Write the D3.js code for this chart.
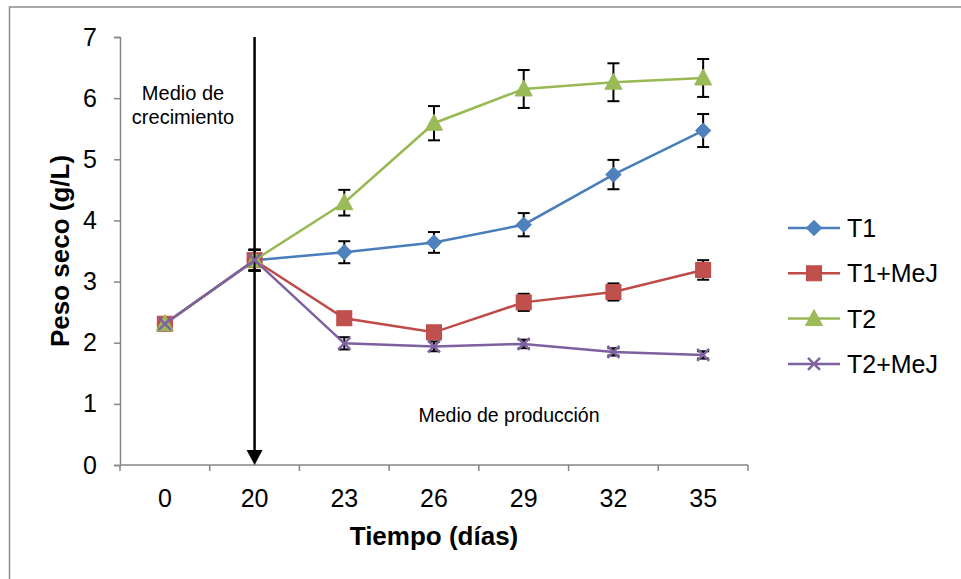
<!DOCTYPE html>
<html>
<head>
<meta charset="utf-8">
<script src="https://cdn.jsdelivr.net/npm/d3@7"></script>
<style>
  body { margin: 0; background: #fff; }
  svg { display: block; font-family: "Liberation Sans", Arial, sans-serif; }
</style>
</head>
<body>
<div id="chart"></div>
<script>
// data
var days = ["0", "20", "23", "26", "29", "32", "35"];
var seriesNames = ["T1", "T1+MeJ", "T2", "T2+MeJ"];
var t1 = [2.31, 3.35, 3.48, 3.64, 3.93, 4.75, 5.47];
var t1Err = [0, 0.17, 0.18, 0.17, 0.19, 0.24, 0.27];
var t1MeJ = [2.31, 3.35, 2.40, 2.17, 2.66, 2.83, 3.19];
var t1MeJErr = [0, 0.17, 0.08, 0.08, 0.14, 0.14, 0.16];
var t2 = [2.31, 3.35, 4.29, 5.59, 6.15, 6.26, 6.33];
var t2Err = [0, 0.17, 0.21, 0.28, 0.31, 0.31, 0.31];
var t2MeJ = [2.31, 3.35, 1.99, 1.94, 1.98, 1.85, 1.80];
var t2MeJErr = [0, 0.17, 0.10, 0.08, 0.07, 0.06, 0.06];
var yTicks = [0, 1, 2, 3, 4, 5, 6, 7];

var colors = ["#4A7EBB", "#BE4B48", "#98B954", "#7D60A0"];
var fills = ["#4F81BD", "#C0504D", "#9BBB59", "#8064A2"];
var markers = ["diamond", "square", "triangle", "x"];

var values = [t1, t1MeJ, t2, t2MeJ];
var errors = [t1Err, t1MeJErr, t2Err, t2MeJErr];
var series = seriesNames.map(function (name, i) {
    return { name: name, color: colors[i], fill: fills[i], marker: markers[i],
        points: days.map(function (d, j) { return { day: d, value: values[i][j], err: errors[i][j] }; }) };
});

var width = 961, height = 579;
var margin = { top: 37, left: 120, right: 213, bottom: 114 };
var plotW = width - margin.left - margin.right;
var plotH = height - margin.top - margin.bottom;

var svg = d3.select("#chart").append("svg")
    .attr("width", width)
    .attr("height", height);

// outer chart frame (cut off right/bottom like the source)
svg.append("rect")
    .attr("x", 9.5).attr("y", 7)
    .attr("width", 1000).attr("height", 700)
    .attr("fill", "none").attr("stroke", "#8c8c8c").attr("stroke-width", 1.5);

var x = d3.scaleBand().domain(days).range([0, plotW]);
var y = d3.scaleLinear().domain([0, 7]).range([plotH, 0]);

var g = svg.append("g")
    .attr("transform", "translate(" + margin.left + "," + margin.top + ")");

// x axis with ticks on the band edges
var xAxis = g.append("g")
    .attr("transform", "translate(0," + plotH + ")");
xAxis.append("line")
    .attr("x1", 0).attr("x2", plotW)
    .attr("stroke", "#868686").attr("stroke-width", 1.5);
xAxis.selectAll(".tk").data(d3.range(days.length + 1)).enter().append("line")
    .attr("x1", function (i) { return i * x.step(); })
    .attr("x2", function (i) { return i * x.step(); })
    .attr("y1", 0).attr("y2", 6)
    .attr("stroke", "#868686").attr("stroke-width", 1.5);
xAxis.selectAll(".lbl").data(days).enter().append("text")
    .attr("x", function (d) { return x(d) + x.bandwidth() / 2; })
    .attr("y", 42)
    .attr("text-anchor", "middle")
    .attr("font-size", 25)
    .text(function (d) { return d; });

// y axis
var yAxis = g.append("g")
    .call(d3.axisLeft(y).tickValues(yTicks).tickSize(6).tickPadding(17).tickFormat(d3.format("d")));
yAxis.select(".domain").attr("stroke", "#868686").attr("stroke-width", 1.5);
yAxis.selectAll(".tick line").attr("stroke", "#868686").attr("stroke-width", 1.5);
yAxis.selectAll(".tick text").attr("font-size", 25).attr("fill", "#000")
    .attr("font-family", "Liberation Sans, Arial, sans-serif");

// axis titles
svg.append("text")
    .attr("x", margin.left + plotW / 2)
    .attr("y", 545)
    .attr("text-anchor", "middle")
    .attr("font-size", 26).attr("font-weight", "bold")
    .text("Tiempo (días)");
svg.append("text")
    .attr("transform", "translate(69," + (margin.top + plotH / 2) + ") rotate(-90)")
    .attr("text-anchor", "middle")
    .attr("font-size", 26).attr("font-weight", "bold")
    .text("Peso seco (g/L)");

// arrow at day 20
var arrowX = x("20") + x.bandwidth() / 2;
g.append("line")
    .attr("x1", arrowX).attr("x2", arrowX)
    .attr("y1", 0).attr("y2", plotH - 12)
    .attr("stroke", "#000").attr("stroke-width", 2.5);
g.append("path")
    .attr("d", "M" + (arrowX - 8) + "," + (plotH - 15) + "L" + (arrowX + 8) + "," + (plotH - 15) + "L" + arrowX + "," + plotH + "Z")
    .attr("fill", "#000");

// annotations
g.append("text")
    .attr("x", 63).attr("y", 63)
    .attr("text-anchor", "middle").attr("font-size", 20)
    .text("Medio de");
g.append("text")
    .attr("x", 63).attr("y", 87)
    .attr("text-anchor", "middle").attr("font-size", 20)
    .text("crecimiento");
g.append("text")
    .attr("x", 389).attr("y", 385)
    .attr("text-anchor", "middle").attr("font-size", 19.5)
    .text("Medio de producción");

function cx(d) { return x(d.day) + x.bandwidth() / 2; }

function drawMarker(sel, s, px, py) {
    if (s.marker === "diamond") {
        sel.append("path").attr("d", d3.symbol().type(d3.symbolDiamond2).size(150)())
            .attr("transform", "translate(" + px + "," + py + ")")
            .attr("fill", s.fill).attr("stroke", s.color).attr("stroke-width", 1);
    } else if (s.marker === "square") {
        sel.append("rect").attr("x", px - 7.5).attr("y", py - 7.5).attr("width", 15).attr("height", 15)
            .attr("fill", s.fill).attr("stroke", s.color).attr("stroke-width", 1);
    } else if (s.marker === "triangle") {
        sel.append("path").attr("d", "M0,-9L8.5,7L-8.5,7Z")
            .attr("transform", "translate(" + px + "," + py + ")")
            .attr("fill", s.fill).attr("stroke", s.color).attr("stroke-width", 1);
    } else {
        sel.append("path").attr("d", "M-6,-6L6,6M-6,6L6,-6")
            .attr("transform", "translate(" + px + "," + py + ")")
            .attr("fill", "none").attr("stroke", s.fill).attr("stroke-width", 2.5);
    }
}

var line = d3.line().x(cx).y(function (d) { return y(d.value); });

series.forEach(function (s) {
    var sg = g.append("g");
    sg.append("path").datum(s.points)
        .attr("d", line)
        .attr("fill", "none").attr("stroke", s.color).attr("stroke-width", 2.5);
    s.points.forEach(function (p) {
        if (p.err > 0) {
            var px = cx(p), y1 = y(p.value + p.err), y2 = y(p.value - p.err);
            sg.append("line").attr("x1", px).attr("x2", px).attr("y1", y1).attr("y2", y2)
                .attr("stroke", "#000").attr("stroke-width", 2);
            sg.append("line").attr("x1", px - 6).attr("x2", px + 6).attr("y1", y1).attr("y2", y1)
                .attr("stroke", "#000").attr("stroke-width", 2);
            sg.append("line").attr("x1", px - 6).attr("x2", px + 6).attr("y1", y2).attr("y2", y2)
                .attr("stroke", "#000").attr("stroke-width", 2);
        }
    });
    s.points.forEach(function (p) { drawMarker(sg, s, cx(p), y(p.value)); });
});

// legend
var legend = svg.append("g").attr("transform", "translate(788,228)");
series.forEach(function (s, i) {
    var row = legend.append("g").attr("transform", "translate(0," + (i * 45.3) + ")");
    row.append("line").attr("x1", 0).attr("x2", 52).attr("y1", 0).attr("y2", 0)
        .attr("stroke", s.color).attr("stroke-width", 2.5);
    drawMarker(row, s, 26, 0);
    row.append("text").attr("x", 59).attr("y", 9).attr("font-size", 25).text(s.name);
});
</script>
</body>
</html>
